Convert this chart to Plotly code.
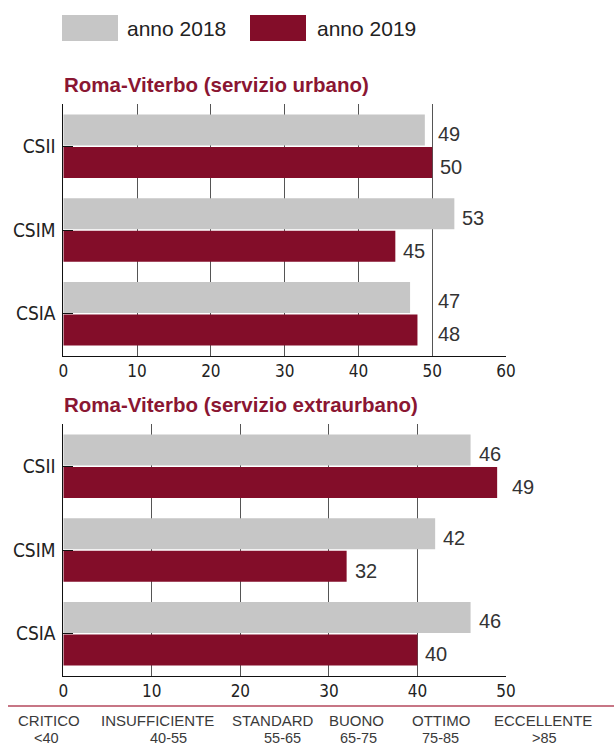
import plotly.graph_objects as go

# ---- data -------------------------------------------------------------
categories = ["CSII", "CSIM", "CSIA"]
series_names = ["anno 2018", "anno 2019"]

urbano_2018 = [49, 53, 47]
urbano_2019 = [50, 45, 48]
extra_2018 = [46, 42, 46]
extra_2019 = [49, 32, 40]

ticks_urbano = [0, 10, 20, 30, 40, 50, 60]
ticks_extra = [0, 10, 20, 30, 40, 50]

rating_names = ["CRITICO", "INSUFFICIENTE", "STANDARD", "BUONO", "OTTIMO", "ECCELLENTE"]
rating_ranges = ["<40", "40-55", "55-65", "65-75", "75-85", ">85"]

# ---- style ------------------------------------------------------------
W, H = 614, 746
GRAY = "#c6c6c6"
RED = "#830d29"
TITLE_RED = "#8a1632"
GRID = "#555555"
TXT = "#222222"
SANS = "Liberation Sans, Arial, sans-serif"
COND = "DejaVu Sans Condensed, DejaVu Sans, sans-serif"

X0, X1 = 63.3, 506.0          # plot area, pixels
TOP_Y = (104.3, 355.7)
BOT_Y = (424.3, 675.7)


def px(x):
    return x / W


def py(y):
    return 1 - y / H


fig = go.Figure()

panels = [
    ("x", "y", urbano_2018, urbano_2019, 60, 50),
    ("x2", "y2", extra_2018, extra_2019, 50, 50),
]

for xa, ya, s18, s19, _, _ in panels:
    fig.add_trace(go.Bar(y=categories, x=s18, orientation="h", name=series_names[0],
                         marker=dict(color=GRAY, line=dict(width=0)),
                         xaxis=xa, yaxis=ya, showlegend=False, hoverinfo="x+y"))
    fig.add_trace(go.Bar(y=categories, x=s19, orientation="h", name=series_names[1],
                         marker=dict(color=RED, line=dict(width=0)),
                         xaxis=xa, yaxis=ya, showlegend=False, hoverinfo="x+y"))

# ---- value labels: keep them clear of the reference line -------------------
LABEL_W = 24   # approx. width of a two-digit label, px
GAP = 6
annotations = []
for xa, ya, s18, s19, xmax, ref in panels:
    ppu = (X1 - X0) / xmax
    for series, yshift in ((s18, 12.5), (s19, -20.5)):
        for cat, v in zip(categories, series):
            start = v * ppu + GAP
            if start < ref * ppu and start + LABEL_W > ref * ppu:
                ax, shift = ref, 4
            else:
                ax, shift = v, GAP
            annotations.append(dict(
                x=ax, y=cat, xref=xa, yref=ya, text=str(v), showarrow=False,
                xanchor="left", yanchor="middle", xshift=shift, yshift=yshift,
                font=dict(family=SANS, size=20, color="#333333")))

# ---- titles -------------------------------------------------------------
for text, yc in (("Roma-Viterbo (servizio urbano)", 85),
                 ("Roma-Viterbo (servizio extraurbano)", 404)):
    annotations.append(dict(
        x=px(62), y=py(yc), xref="paper", yref="paper", text=text, showarrow=False,
        xanchor="left", yanchor="middle",
        font=dict(family=SANS, size=20.5, color=TITLE_RED, weight="bold")))

# ---- legend -------------------------------------------------------------
shapes = []
legend_items = [(62, 118, 125, GRAY, series_names[0]),
                (250, 306, 315, RED, series_names[1])]
for bx0, bx1, tx, col, name in legend_items:
    shapes.append(dict(type="rect", xref="paper", yref="paper",
                       x0=px(bx0), x1=px(bx1), y0=py(41), y1=py(15),
                       fillcolor=col, line=dict(width=0)))
    annotations.append(dict(
        x=px(tx), y=py(28.5), xref="paper", yref="paper", text=name, showarrow=False,
        xanchor="left", yanchor="middle",
        font=dict(family=SANS, size=21, color=TXT)))

# ---- rating scale at the foot --------------------------------------------
shapes.append(dict(type="line", xref="paper", yref="paper",
                   x0=px(8), x1=1, y0=py(706), y1=py(706),
                   line=dict(color="#b4485c", width=1.5)))
name_x = [49, 157, 273, 356, 441, 543]
range_x = [46, 168, 282, 358, 440, 544]
for n, r, nx, rx in zip(rating_names, rating_ranges, name_x, range_x):
    annotations.append(dict(x=px(nx), y=py(720.5), xref="paper", yref="paper", text=n,
                            showarrow=False, xanchor="center", yanchor="middle",
                            font=dict(family=SANS, size=15, color="#3a3a3a")))
    annotations.append(dict(x=px(rx), y=py(738), xref="paper", yref="paper", text=r,
                            showarrow=False, xanchor="center", yanchor="middle",
                            font=dict(family=SANS, size=14.5, color="#3a3a3a")))


def xaxis(rng, ticks, ydom_anchor, standoff):
    return dict(domain=[px(X0), px(X1)], range=rng, tickvals=ticks,
                ticktext=[str(t) for t in ticks], anchor=ydom_anchor,
                showgrid=True, gridcolor=GRID, gridwidth=1, zeroline=False,
                showline=True, linecolor="#111111", linewidth=1, ticks="",
                ticklabelstandoff=standoff, automargin=False,
                tickfont=dict(family=COND, size=17, color=TXT), fixedrange=True)


def yaxis(dom, xanchor):
    return dict(domain=[py(dom[1]), py(dom[0])], type="category",
                categoryorder="array", categoryarray=categories,
                autorange="reversed", anchor=xanchor, showgrid=False,
                zeroline=False, showline=True, linecolor="#111111", linewidth=1,
                ticks="inside", ticklen=10, tickcolor="#111111", tickwidth=1,
                ticklabelstandoff=3, automargin=False,
                tickfont=dict(family=COND, size=19, color=TXT), fixedrange=True)


fig.update_layout(
    width=W, height=H, margin=dict(l=0, r=0, t=0, b=0, pad=0, autoexpand=False),
    paper_bgcolor="white", plot_bgcolor="white",
    barmode="group", bargap=0.226, bargroupgap=0.046,
    xaxis=xaxis([0, 60], ticks_urbano, "y", 0),
    yaxis=yaxis(TOP_Y, "x"),
    xaxis2=xaxis([0, 50], ticks_extra, "y2", 0),
    yaxis2=yaxis(BOT_Y, "x2"),
    annotations=annotations, shapes=shapes,
)

fig.write_html("out.html")
